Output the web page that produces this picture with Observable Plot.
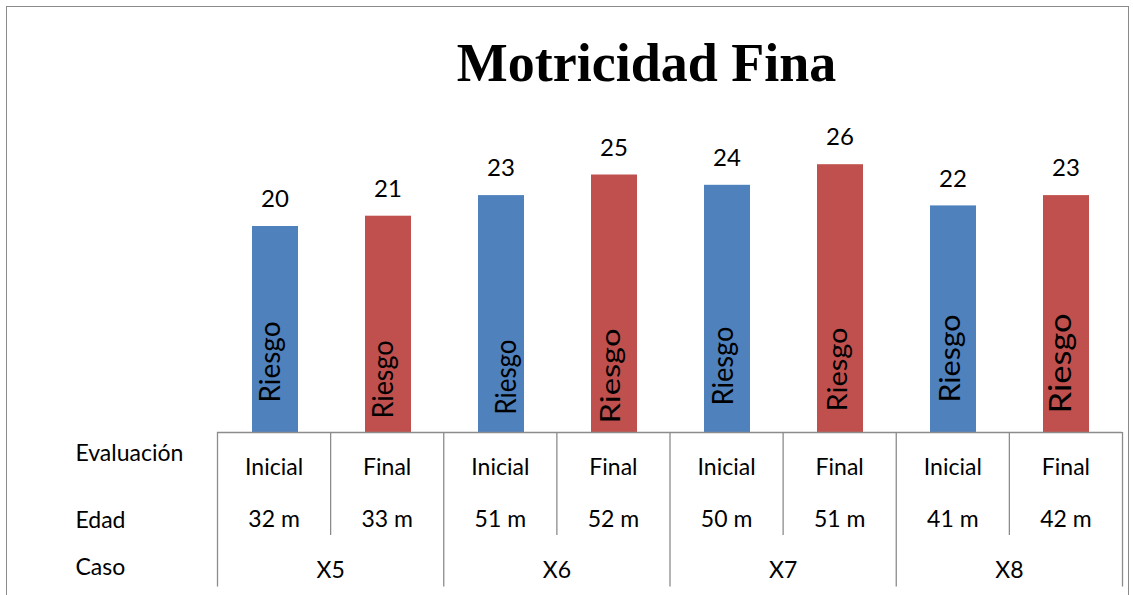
<!DOCTYPE html>
<html>
<head>
<meta charset="utf-8">
<script src="https://cdn.jsdelivr.net/npm/d3@7"></script>
<script src="https://cdn.jsdelivr.net/npm/@observablehq/plot@0.6"></script>
<style>
  html, body { margin: 0; padding: 0; background: #fff; }
  #wrap { position: relative; width: 1133px; height: 595px; overflow: hidden; background: #fff; }
  #frame { position: absolute; left: 6px; top: 6px; width: 1123px; height: 640px; border: 1px solid #8a8a8a; box-sizing: border-box; }
  #title { position: absolute; left: 80px; width: 1133px; top: 36px; text-align: center;
           font-family: "Liberation Serif", "Times New Roman", serif; font-weight: bold; font-size: 54px; line-height: 54px; color: #000; }
  #top, #bottom { position: absolute; left: 0; }
  #top { top: 0; }
  #bottom { top: 427px; }
  svg { overflow: visible; }
</style>
</head>
<body>
<div id="wrap">
  <div id="frame"></div>
  <div id="title">Motricidad Fina</div>
  <div id="top"></div>
  <div id="bottom"></div>
</div>
<script>
// ---- data ----
const casos      = ["X5", "X5", "X6", "X6", "X7", "X7", "X8", "X8"];
const evaluacion = ["Inicial", "Final", "Inicial", "Final", "Inicial", "Final", "Inicial", "Final"];
const edad       = ["32 m", "33 m", "51 m", "52 m", "50 m", "51 m", "41 m", "42 m"];
const puntaje    = [20, 21, 23, 25, 24, 26, 22, 23];
const nivel      = ["Riesgo", "Riesgo", "Riesgo", "Riesgo", "Riesgo", "Riesgo", "Riesgo", "Riesgo"];
const rowLabels  = ["Evaluación", "Edad", "Caso"];

// ---- styles ----
const colorDomain = ["Inicial", "Final"];
const colorRange  = ["#4F81BD", "#C0504D"];
const gridColor = "#8c8c8c";
const font = "Lato, 'Open Sans', sans-serif";
// per-bar appearance of the rotated labels (font size, lift, shift, length)
const riesgoFont  = [28, 28, 29, 26, 29, 26, 29, 31];
const riesgoLift  = [30, 14, 18, 9, 27, 21, 30, 19];
const riesgoShift = [-4, -4, 6, -2, -3, -1, -2, -5];
const riesgoLen   = [81, 78, 75, 95, 79, 84, 88, 100];
const rowLabelDy  = [-5, 11, 6];

const data = puntaje.map((v, i) => ({
  i, id: casos[i] + "-" + evaluacion[i], caso: casos[i], evaluacion: evaluacion[i],
  edad: edad[i], puntaje: v, nivel: nivel[i]
}));
const ids = data.map(d => d.id);

// ---- top: bars ----
const topPlot = Plot.plot({
  width: 1133, height: 440,
  marginTop: 123, marginBottom: 8, marginLeft: 217, marginRight: 11,
  style: { fontFamily: font, background: "transparent", overflow: "visible" },
  x: { domain: ids, padding: 0, axis: null },
  y: { domain: [0, 30], axis: null },
  color: { domain: colorDomain, range: colorRange },
  marks: [
    Plot.barY(data, { x: "id", y: "puntaje", fill: "evaluacion", insetLeft: 34, insetRight: 33 }),
    Plot.text(data, { x: "id", y: "puntaje", text: d => String(d.puntaje), fontSize: 24, fill: "#000",
                      lineAnchor: "middle", dy: -27 }),
    ...data.map((d, k) => Plot.text([d], {
      x: "id", y: () => 0, text: "nivel", rotate: -90, textAnchor: "start", lineAnchor: "middle",
      fontSize: riesgoFont[k], fill: "#000", dx: riesgoShift[k], dy: -riesgoLift[k],
      className: "riesgo riesgo-" + k
    }))
  ]
});
document.getElementById("top").appendChild(topPlot);
// stretch rotated labels to their measured lengths
data.forEach((d, k) => {
  d3.select(topPlot).selectAll(".riesgo-" + k + " text")
    .attr("textLength", riesgoLen[k]).attr("lengthAdjust", "spacingAndGlyphs");
});

// ---- bottom: category table ----
const bounds = d3.range(casos.length + 1).map(b => ({
  b, end: (b === 0 || b === casos.length || casos[b] !== casos[b - 1]) ? 3 : 2
}));
const casoGroups = Array.from(d3.group(data, d => d.caso), ([caso, rows]) => ({
  caso, center: (d3.min(rows, r => r.i) + d3.max(rows, r => r.i) + 1) / 2
}));

const bottomPlot = Plot.plot({
  width: 1133, height: 168,
  marginTop: 0, marginBottom: 0, marginLeft: 0, marginRight: 0,
  style: { fontFamily: font, background: "transparent", overflow: "visible" },
  x: { domain: [0, casos.length], range: [217, 1122], axis: null },
  y: { domain: [0, 3], range: [5, 159.5], axis: null },
  marks: [
    Plot.ruleY([0], { x1: 0, x2: casos.length, stroke: gridColor, strokeWidth: 1.3 }),
    Plot.ruleX(bounds, { x: "b", y1: () => 0, y2: "end", stroke: gridColor, strokeWidth: 1.3 }),
    Plot.text(data, { x: d => d.i + 0.5, y: () => 0.5, text: "evaluacion", fontSize: 23, fill: "#000", dy: 9.5 }),
    Plot.text(data, { x: d => d.i + 0.5, y: () => 1.5, text: "edad", fontSize: 23, fill: "#000", dy: 9.5 }),
    Plot.text(casoGroups, { x: "center", y: () => 2.5, text: "caso", fontSize: 23, fill: "#000", dy: 9 }),
    ...rowLabels.map((lab, r) => Plot.text([lab], {
      x: () => 0, y: () => r + 0.5, text: d => d, textAnchor: "start", fontSize: 23, fill: "#000",
      dx: -142, dy: rowLabelDy[r]
    }))
  ]
});
document.getElementById("bottom").appendChild(bottomPlot);
</script>
</body>
</html>
